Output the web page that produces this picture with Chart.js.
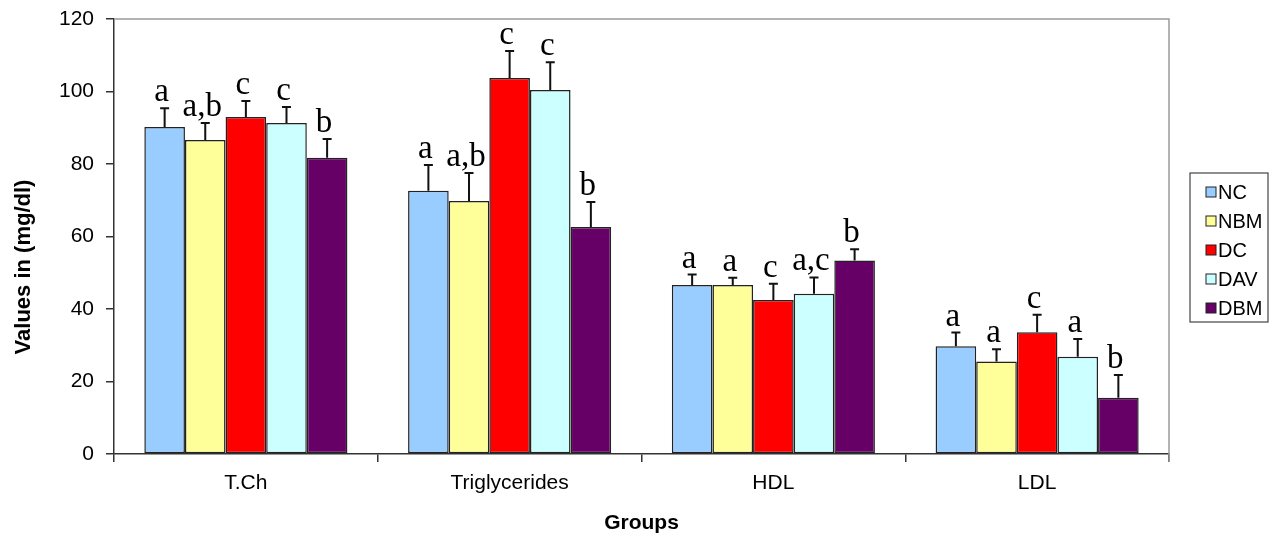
<!DOCTYPE html>
<html>
<head>
<meta charset="utf-8">
<script src="https://cdn.jsdelivr.net/npm/chart.js@4/dist/chart.umd.min.js"></script>
<style>
  html, body { margin: 0; padding: 0; background: #ffffff; }
  #wrap { width: 1276px; height: 539px; }
</style>
</head>
<body>
<div id="wrap"><canvas id="c" width="1276" height="539"></canvas></div>
<script>
// ---- data ----
const categories = ['T.Ch', 'Triglycerides', 'HDL', 'LDL'];
const seriesNames = ['NC', 'NBM', 'DC', 'DAV', 'DBM'];
const NC  = [90.2, 72.6, 46.6, 29.7];
const NBM = [86.6, 69.8, 46.6, 25.5];
const DC  = [93.0, 103.7, 42.5, 33.6];
const DAV = [91.3, 100.4, 44.2, 26.8];
const DBM = [81.7, 62.6, 53.4, 15.5];
const errNC  = [5.2, 7.1, 2.9, 3.8];
const errNBM = [4.7, 7.7, 2.0, 3.4];
const errDC  = [4.4, 7.5, 4.5, 4.8];
const errDAV = [4.4, 7.7, 4.5, 4.9];
const errDBM = [5.2, 6.9, 3.1, 6.3];
const lettersNC  = ['a', 'a', 'a', 'a'];
const lettersNBM = ['a,b', 'a,b', 'a', 'a'];
const lettersDC  = ['c', 'c', 'c', 'c'];
const lettersDAV = ['c', 'c', 'a,c', 'a'];
const lettersDBM = ['b', 'b', 'b', 'b'];
const yTicks = [0, 20, 40, 60, 80, 100, 120];
const yTitle = 'Values in (mg/dl)';
const xTitle = 'Groups';

const colors = ['#99CCFF', '#FFFF99', '#FF0000', '#CCFFFF', '#660066'];
const values = [NC, NBM, DC, DAV, DBM];
const errors = [errNC, errNBM, errDC, errDAV, errDBM];
const letters = [lettersNC, lettersNBM, lettersDC, lettersDAV, lettersDBM];

const datasets = seriesNames.map((name, i) => ({
  label: name,
  data: values[i],
  errors: errors[i],
  letters: letters[i],
  backgroundColor: colors[i],
  borderColor: '#222222',
  borderWidth: 1.5,
  borderSkipped: false,
  categoryPercentage: 0.77,
  barPercentage: 1.0
}));

const framePlugin = {
  id: 'frame',
  beforeDatasetsDraw(chart) {
    const { ctx, chartArea: a } = chart;
    ctx.save();
    ctx.strokeStyle = '#9a9a9a';
    ctx.lineWidth = 1.5;
    ctx.beginPath();
    ctx.moveTo(a.left, a.top);
    ctx.lineTo(a.right, a.top);
    ctx.lineTo(a.right, a.bottom + 8);
    ctx.stroke();
    ctx.restore();
  }
};

const errorPlugin = {
  id: 'errbars',
  afterDatasetsDraw(chart) {
    const { ctx } = chart;
    const ys = chart.scales.y;
    ctx.save();
    chart.data.datasets.forEach((ds, di) => {
      const meta = chart.getDatasetMeta(di);
      meta.data.forEach((bar, j) => {
        const v = ds.data[j];
        const e = ds.errors[j];
        const yTop = ys.getPixelForValue(v + e);
        const yBar = ys.getPixelForValue(v);
        ctx.strokeStyle = '#111';
        ctx.lineWidth = 2;
        ctx.beginPath();
        ctx.moveTo(bar.x, yBar);
        ctx.lineTo(bar.x, yTop);
        ctx.moveTo(bar.x - 4.5, yTop);
        ctx.lineTo(bar.x + 4.5, yTop);
        ctx.stroke();
        ctx.fillStyle = '#000';
        ctx.font = '33px "Liberation Serif", "Times New Roman", serif';
        ctx.textAlign = 'center';
        ctx.textBaseline = 'alphabetic';
        ctx.fillText(ds.letters[j], bar.x - 3, yTop - 7);
      });
    });
    ctx.restore();
  }
};

const legendPlugin = {
  id: 'customLegend',
  afterDraw(chart) {
    const { ctx } = chart;
    const x0 = 1190, y0 = 173, w = 78, h = 149;
    ctx.save();
    ctx.fillStyle = '#ffffff';
    ctx.fillRect(x0, y0, w, h);
    ctx.strokeStyle = '#444';
    ctx.lineWidth = 1.2;
    ctx.strokeRect(x0, y0, w, h);
    ctx.font = '20px "Liberation Sans", Arial, sans-serif';
    ctx.textBaseline = 'middle';
    ctx.textAlign = 'left';
    chart.data.datasets.forEach((ds, i) => {
      const cy = y0 + 19 + i * 29;
      ctx.fillStyle = ds.backgroundColor;
      ctx.fillRect(1206, cy - 5, 10, 10);
      ctx.strokeStyle = '#222';
      ctx.lineWidth = 1;
      ctx.strokeRect(1206, cy - 5, 10, 10);
      ctx.fillStyle = '#000';
      ctx.fillText(ds.label, 1218, cy + 1);
    });
    ctx.restore();
  }
};

const yTitlePlugin = {
  id: 'yTitle',
  afterDraw(chart) {
    const { ctx } = chart;
    ctx.save();
    ctx.translate(24, 267);
    ctx.rotate(-Math.PI / 2);
    ctx.font = 'bold 22px "Liberation Sans", Arial, sans-serif';
    ctx.fillStyle = '#000';
    ctx.textAlign = 'center';
    ctx.textBaseline = 'middle';
    ctx.fillText(yTitle, 0, 0);
    ctx.restore();
  }
};

new Chart(document.getElementById('c'), {
  type: 'bar',
  data: { labels: categories, datasets },
  options: {
    responsive: false,
    animation: false,
    layout: { padding: { top: 19, right: 107, bottom: 0, left: 0 } },
    plugins: {
      legend: { display: false },
      tooltip: { enabled: false }
    },
    scales: {
      y: {
        min: 0,
        max: 120,
        afterBuildTicks(scale) { scale.ticks = yTicks.map(v => ({ value: v })); },
        afterFit(scale) { scale.width = 114; },
        ticks: {
          color: '#000',
          padding: 12,
          font: { family: '"Liberation Sans", Arial, sans-serif', size: 21, lineHeight: 0.5 }
        },
        grid: { drawOnChartArea: false, tickLength: 8, color: '#333', lineWidth: 1.5 },
        border: { color: '#333', width: 1.5 }
      },
      x: {
        afterFit(scale) { scale.height = 85; },
        ticks: {
          color: '#000',
          padding: 9,
          font: { family: '"Liberation Sans", Arial, sans-serif', size: 21 }
        },
        grid: { drawOnChartArea: false, tickLength: 8, color: '#333', lineWidth: 1.5, offset: true },
        border: { color: '#333', width: 1.5 },
        title: {
          display: true,
          text: xTitle,
          color: '#000',
          padding: { top: 0, bottom: 3 },
          font: { family: '"Liberation Sans", Arial, sans-serif', size: 21, weight: 'bold' }
        }
      }
    }
  },
  plugins: [framePlugin, errorPlugin, legendPlugin, yTitlePlugin]
});
</script>
</body>
</html>
